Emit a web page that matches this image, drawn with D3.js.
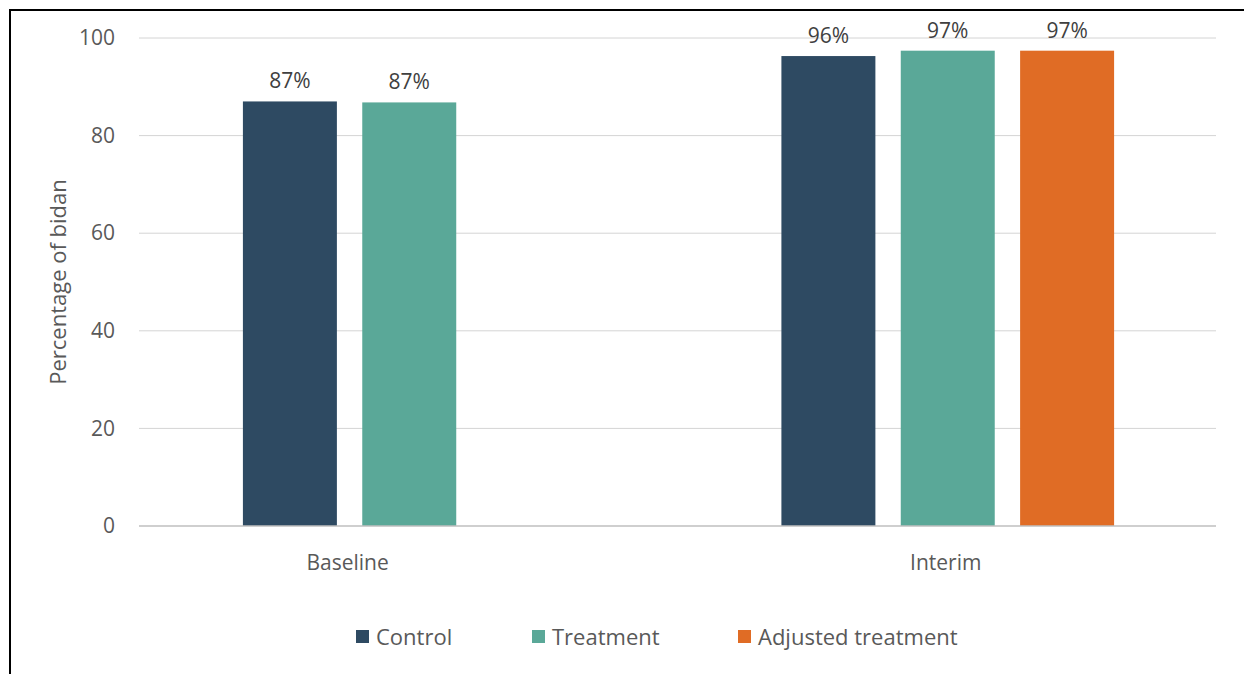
<!DOCTYPE html>
<html>
<head>
<meta charset="utf-8">
<script src="https://cdn.jsdelivr.net/npm/d3@7"></script>
<style>
  html, body { margin: 0; padding: 0; background: #fff; }
  svg { display: block; font-family: "Open Sans", "Noto Sans", sans-serif; }
</style>
</head>
<body>
<svg id="chart" width="1244" height="674"></svg>
<script>
// Share of bidan by survey round and study arm
const categories = ["Baseline", "Interim"];
const seriesNames = ["Control", "Treatment", "Adjusted treatment"];
const controlValues = [87.0, 96.3];
const treatmentValues = [86.8, 97.4];
const adjustedValues = [null, 97.4];
const yTicks = [0, 20, 40, 60, 80, 100];
const yTitle = "Percentage of bidan";

const seriesValues = [controlValues, treatmentValues, adjustedValues];
const colors = ["#2e4a62", "#5aa898", "#e06c25"];

const W = 1244, H = 674;
const margin = { left: 139, right: W - 1216, top: 38, bottom: H - 526 };
const svg = d3.select("#chart");

// outer frame (top and left edges)
svg.append("line").attr("x1", 9).attr("x2", W).attr("y1", 10).attr("y2", 10)
  .attr("stroke", "#000").attr("stroke-width", 2);
svg.append("line").attr("x1", 10).attr("x2", 10).attr("y1", 9).attr("y2", H)
  .attr("stroke", "#000").attr("stroke-width", 2);

const x0 = d3.scaleBand().domain(categories)
  .range([margin.left, W - margin.right]).paddingInner(0).paddingOuter(0);
const y = d3.scaleLinear().domain([0, 100]).range([H - margin.bottom, margin.top]);

// Clustered bars: gap between clusters ~219% of bar width, -27% overlap
const gapRatio = 2.19, overlap = -0.27;
const nS = seriesNames.length;
const barW = x0.bandwidth() / (nS - (nS - 1) * overlap + gapRatio);
const step = barW * (1 - overlap);
const groupW = barW + step * (nS - 1);
const barX = (cat, si) => x0(cat) + (x0.bandwidth() - groupW) / 2 + si * step + 1;

// gridlines
svg.append("g").selectAll("line").data(yTicks.filter(t => t > 0)).join("line")
  .attr("x1", margin.left).attr("x2", W - margin.right)
  .attr("y1", d => y(d)).attr("y2", d => y(d))
  .attr("stroke", "#d4d4d4").attr("stroke-width", 1);

// y axis tick labels
const yAxis = d3.axisLeft(y).tickValues(yTicks).tickSize(0).tickPadding(24);
const gy = svg.append("g").attr("transform", `translate(${margin.left},0)`).call(yAxis);
gy.select(".domain").remove();
gy.selectAll("text").attr("font-size", 21).attr("fill", "#595959")
  .attr("font-family", "'Open Sans', 'Noto Sans', sans-serif");

// bars
const barData = [];
categories.forEach((cat, ci) => {
  seriesValues.forEach((vals, si) => {
    if (vals[ci] != null) barData.push({ cat, si, v: vals[ci] });
  });
});
svg.append("g").selectAll("rect").data(barData).join("rect")
  .attr("x", d => barX(d.cat, d.si))
  .attr("width", barW)
  .attr("y", d => y(d.v))
  .attr("height", d => y(0) - y(d.v))
  .attr("fill", d => colors[d.si]);

// value labels
const fmt = d3.format(".0f");
svg.append("g").selectAll("text").data(barData).join("text")
  .attr("x", d => barX(d.cat, d.si) + barW / 2)
  .attr("y", d => y(d.v) - 13)
  .attr("text-anchor", "middle")
  .attr("font-size", 21).attr("fill", "#404040")
  .text(d => fmt(d.v) + "%");

// baseline axis line
svg.append("line").attr("x1", margin.left).attr("x2", W - margin.right)
  .attr("y1", y(0)).attr("y2", y(0)).attr("stroke", "#bfbfbf").attr("stroke-width", 1.5);

// category labels, centred under the bars present in each cluster
svg.append("g").selectAll("text").data(categories).join("text")
  .attr("x", cat => {
    const xs = barData.filter(d => d.cat === cat).map(d => barX(d.cat, d.si) + barW / 2);
    return d3.mean(xs) - 2;
  })
  .attr("y", 570)
  .attr("text-anchor", "middle")
  .attr("font-size", 21).attr("fill", "#595959")
  .text(d => d);

// y axis title
svg.append("text")
  .attr("transform", `translate(66,${(y(0) + y(100)) / 2}) rotate(-90)`)
  .attr("text-anchor", "middle")
  .attr("font-size", 22).attr("fill", "#595959")
  .text(yTitle);

// legend
const legendX = [356, 532, 738];
const legend = svg.append("g").selectAll("g").data(seriesNames).join("g")
  .attr("transform", (d, i) => `translate(${legendX[i]},630)`);
legend.append("rect").attr("width", 13).attr("height", 13).attr("fill", (d, i) => colors[i]);
legend.append("text").attr("x", 20).attr("y", 14.5)
  .attr("font-size", 22).attr("fill", "#595959").text(d => d);
</script>
</body>
</html>
